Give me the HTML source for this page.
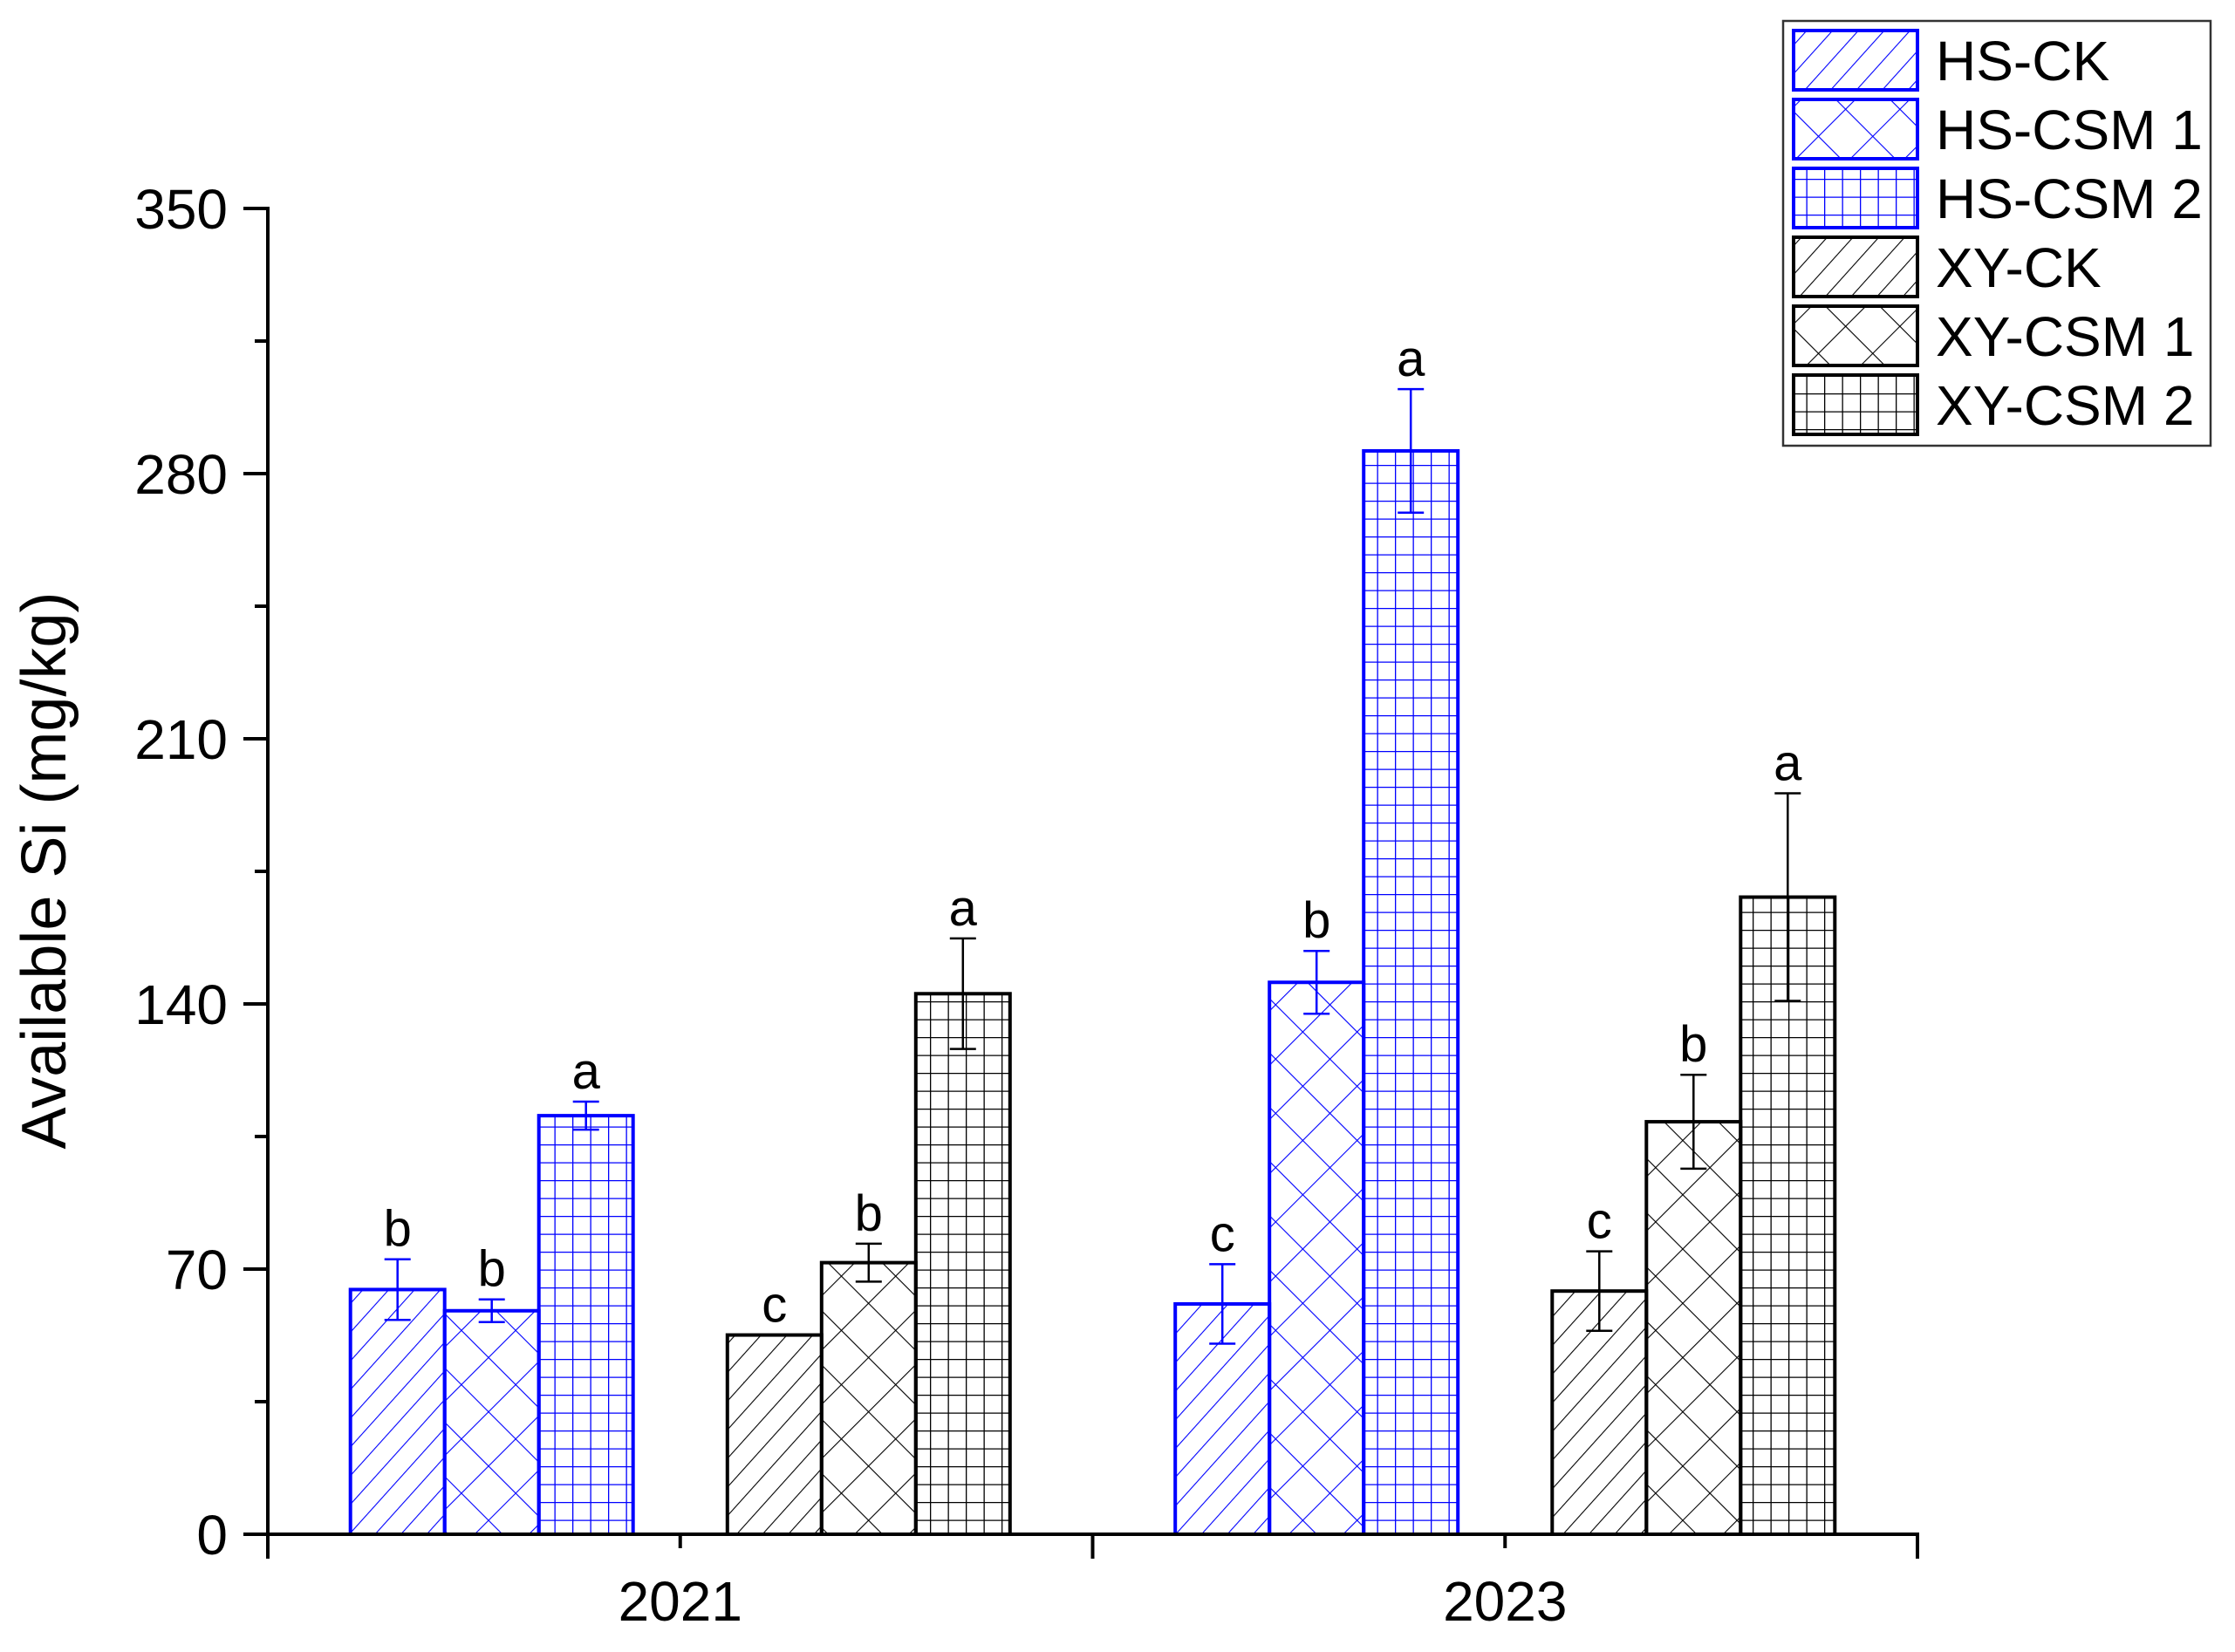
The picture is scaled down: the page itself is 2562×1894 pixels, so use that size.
<!DOCTYPE html>
<html><head><meta charset="utf-8">
<style>
html,body{margin:0;padding:0;background:#fff;}
svg{display:block;font-family:"Liberation Sans",Arial,sans-serif;}
</style></head>
<body>
<svg id="chart" width="2562" height="1894" viewBox="0 0 2562 1894" xmlns="http://www.w3.org/2000/svg">
<defs>
  <pattern id="diagB" patternUnits="userSpaceOnUse" width="22" height="22" patternTransform="rotate(42)"><line x1="0" y1="0" x2="0" y2="22" stroke="#0000ff" stroke-width="2.2"/></pattern>
  <pattern id="crossB" patternUnits="userSpaceOnUse" width="44" height="44" patternTransform="rotate(45)"><path d="M0 0V44M0 0H44" stroke="#0000ff" stroke-width="2.2" fill="none"/></pattern>
  <pattern id="gridB" patternUnits="userSpaceOnUse" width="20.5" height="20.5"><path d="M0 0V20.5M0 0H20.5" stroke="#0000ff" stroke-width="2.6" fill="none"/></pattern>
  <pattern id="diagK" patternUnits="userSpaceOnUse" width="22" height="22" patternTransform="rotate(42)"><line x1="0" y1="0" x2="0" y2="22" stroke="#000" stroke-width="2.2"/></pattern>
  <pattern id="crossK" patternUnits="userSpaceOnUse" width="44" height="44" patternTransform="rotate(45)"><path d="M0 0V44M0 0H44" stroke="#000" stroke-width="2.2" fill="none"/></pattern>
  <pattern id="gridK" patternUnits="userSpaceOnUse" width="20.5" height="20.5"><path d="M0 0V20.5M0 0H20.5" stroke="#000" stroke-width="2.6" fill="none"/></pattern>
</defs>
<g id="plot"></g>
<text transform="translate(75,998) rotate(-90)" text-anchor="middle" font-size="72">Available Si (mg/kg)</text>
</svg>
<script>
const years = ["2021", "2023"];
const seriesNames = ["HS-CK", "HS-CSM 1", "HS-CSM 2", "XY-CK", "XY-CSM 1", "XY-CSM 2"];
const vals2021 = [64.6, 59, 110.5, 52.6, 71.7, 142.7];
const vals2023 = [60.8, 145.7, 286, 64.2, 108.9, 168.2];
const err2021 = [8, 3, 3.7, 0, 5, 14.6];
const err2023 = [10.5, 8.3, 16.3, 10.5, 12.4, 27.4];
const letters2021 = ["b", "b", "a", "c", "b", "a"];
const letters2023 = ["c", "b", "a", "c", "b", "a"];
const yTicks = [0, 70, 140, 210, 280, 350];

const NS = "http://www.w3.org/2000/svg";
const plot = document.getElementById('plot');
const X0 = 307, X1 = 2198, Y0 = 1759, Y1 = 239;
const yMax = 350;
function yS(v){ return Y0 - v / yMax * (Y0 - Y1); }
function xS(u){ return X0 + u / 4 * (X1 - X0); }
const fills = ["diagB","crossB","gridB","diagK","crossK","gridK"];
const strokes = ["#0000ff","#0000ff","#0000ff","#000","#000","#000"];
function mk(tag, attrs, parent){
  const e = document.createElementNS(NS, tag);
  for (const k in attrs) e.setAttribute(k, attrs[k]);
  (parent || plot).appendChild(e);
  return e;
}
const barW = 108;
const barU = barW / ((X1 - X0) / 4);
const groupOff = 0.457;

years.forEach((yr, yi) => {
  const vals = yi === 0 ? vals2021 : vals2023;
  const errs = yi === 0 ? err2021 : err2023;
  const lets = yi === 0 ? letters2021 : letters2023;
  const center = 1 + yi * 2;
  seriesNames.forEach((s, si) => {
    const grp = si < 3 ? -1 : 1;
    const pos = (si % 3) - 1;
    const cu = center + grp * groupOff + pos * barU;
    const cx = xS(cu);
    const top = yS(vals[si]);
    const r = mk('rect', {x: cx - barW/2, y: top, width: barW, height: Y0 - top, fill: 'url(#' + fills[si] + ')', stroke: strokes[si], 'stroke-width': 4});
    
    
    const e = errs[si];
    const eh = yS(vals[si] + e), el = yS(vals[si] - e);
    if (e > 0) {
      const g = mk('g', {stroke: strokes[si], 'stroke-width': 2.5});
      
      
      mk('line', {x1: cx, y1: eh, x2: cx, y2: el}, g);
      mk('line', {x1: cx - 15, y1: eh, x2: cx + 15, y2: eh}, g);
      mk('line', {x1: cx - 15, y1: el, x2: cx + 15, y2: el}, g);
    }
    const t = mk('text', {x: cx, y: eh - 15, 'text-anchor': 'middle', 'font-size': 58});
    t.textContent = lets[si];
    
    
  });
  const xl = mk('text', {x: xS(center), y: 1858, 'text-anchor': 'middle', 'font-size': 64});
  xl.textContent = yr;
  
  
});

const ya = mk('line', {x1: X0, y1: Y1 - 2, x2: X0, y2: Y0 + 28, stroke: '#000', 'stroke-width': 4});


const xa = mk('line', {x1: X0 - 2, y1: Y0, x2: X1 + 2, y2: Y0, stroke: '#000', 'stroke-width': 4});


for (let u = 1; u <= 4; u++) {
  const tk = mk('line', {x1: xS(u), y1: Y0, x2: xS(u), y2: Y0 + (u % 2 === 0 ? 28 : 16), stroke: '#000', 'stroke-width': 4});
  
  
}
yTicks.forEach((v, i) => {
  const y = yS(v);
  const tk = mk('line', {x1: X0 - 28, y1: y, x2: X0, y2: y, stroke: '#000', 'stroke-width': 4});
  
  
  const t = mk('text', {x: X0 - 46, y: y + 23, 'text-anchor': 'end', 'font-size': 64});
  t.textContent = v;
  
  
  if (i < yTicks.length - 1) {
    const ym = yS(v + 35);
    const mt = mk('line', {x1: X0 - 15, y1: ym, x2: X0, y2: ym, stroke: '#000', 'stroke-width': 4});
    
    
  }
});

const lg = mk('g', {});


mk('rect', {x: 2044, y: 24, width: 490, height: 487, fill: '#fff', stroke: '#333', 'stroke-width': 2.5}, lg);
seriesNames.forEach((s, si) => {
  const y = 35 + si * 79;
  const entry = mk('g', {}, lg);
  
  
  mk('rect', {x: 2056, y: y, width: 142, height: 68, fill: 'url(#' + fills[si] + ')', stroke: strokes[si], 'stroke-width': 4}, entry);
  const t = mk('text', {x: 2219, y: y + 57, 'font-size': 64}, entry);
  t.textContent = s;
});
</script>
</body></html>
